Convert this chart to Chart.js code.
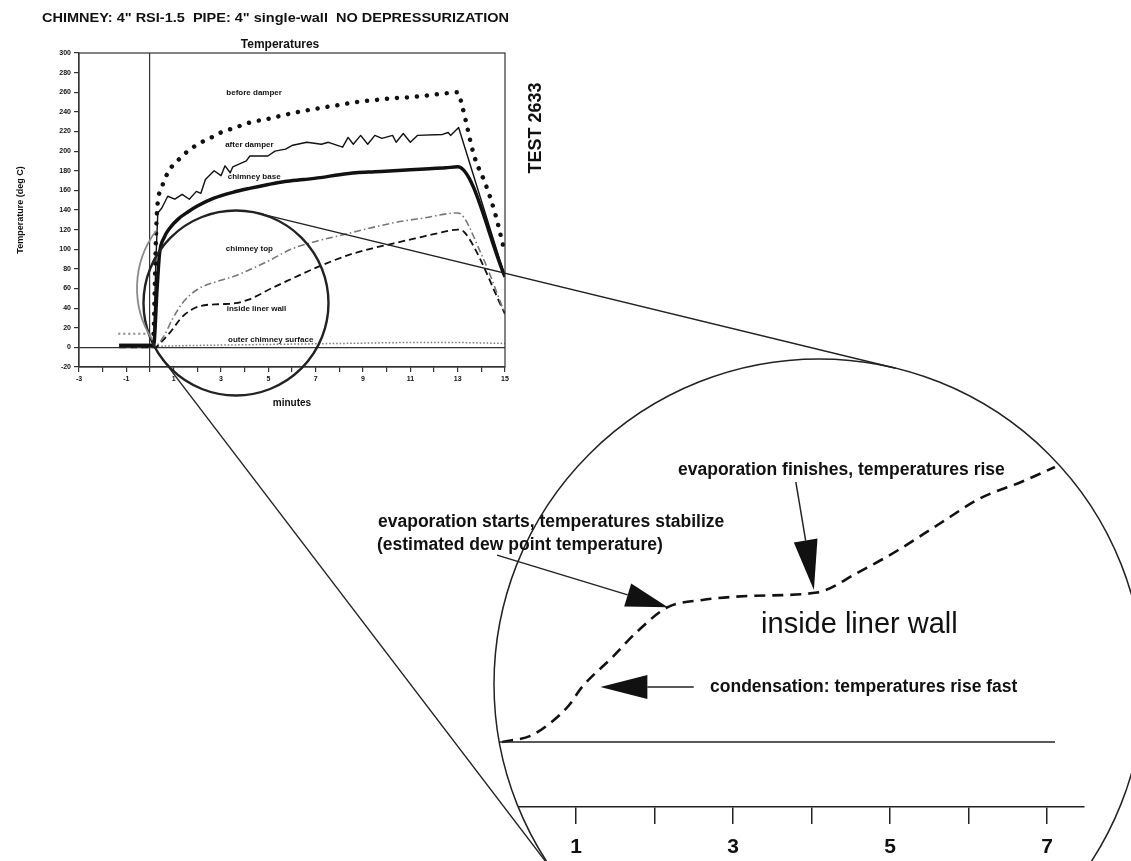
<!DOCTYPE html>
<html>
<head>
<meta charset="utf-8">
<script src="https://cdn.jsdelivr.net/npm/chart.js@4.4.1/dist/chart.umd.min.js"></script>
<style>
  html, body { margin: 0; padding: 0; background: #fff; }
  #wrap { position: relative; width: 1131px; height: 861px; overflow: hidden; }
  canvas { position: absolute; left: 0; top: 0; }
</style>
</head>
<body>
<div id="wrap">
  <canvas id="main" width="1131" height="861"></canvas>
  <canvas id="inset" width="1131" height="861"></canvas>
</div>
<script>
// ---- data (minutes, deg C) ----
const beforeDamperMin = [-1.3, 0.15, 0.2, 0.25, 0.3, 0.5, 0.8, 1.2, 1.6, 2.1, 2.6, 3.0, 3.6, 4.2, 5.0, 5.7, 6.5, 7.2, 8.0, 8.7, 9.5, 10.3, 11.0, 11.8, 12.5, 13.0, 13.2, 13.7, 14.2, 14.6, 15];
const beforeDamperTemp = [14, 14, 60, 110, 140, 163, 180, 191, 200, 208, 214, 219, 224, 229, 233, 237, 241, 244, 247, 250, 252, 254, 255, 257, 259, 260, 245, 195, 165, 135, 96];

const afterDamperMin = [-1.3, 0.15, 0.25, 0.33, 0.5, 0.75, 1.05, 1.36, 1.66, 1.96, 2.15, 2.34, 2.71, 3.0, 3.17, 3.39, 3.5, 4.07, 4.22, 4.98, 5.28, 5.73, 6.03, 6.63, 7.24, 7.54, 8.14, 8.37, 8.59, 8.9, 9.2, 9.5, 9.8, 10.25, 10.4, 10.7, 11.0, 11.3, 12.36, 12.6, 12.7, 13.04, 15];
const afterDamperTemp = [3, 3, 90, 137, 142, 154, 151, 156, 151, 159, 157, 171, 180, 175, 185, 178, 184, 190, 195, 195, 200, 202, 206, 209, 207, 209, 204, 214, 207, 216, 207, 216, 213, 216, 209, 218, 209, 216, 217, 219, 216, 224, 72];

const chimneyBaseMin = [-1.3, 0.15, 0.3, 0.4, 0.6, 0.85, 1.2, 1.6, 2.0, 2.7, 3.5, 4.2, 5.0, 5.7, 6.5, 7.2, 8.0, 8.7, 9.5, 10.3, 11.0, 11.8, 12.5, 13.0, 15];
const chimneyBaseTemp = [2, 2, 60, 95, 112, 122, 131, 138, 144, 152, 158, 162, 166, 169, 171, 173, 176, 178, 179, 180, 181, 182, 183, 184, 72];

const chimneyTopMin = [-1.3, 0.2, 0.6, 0.93, 1.4, 2.0, 2.8, 3.5, 4.2, 5.0, 5.96, 7.0, 8.2, 9.2, 10.3, 11.6, 13.0, 14.0, 15];
const chimneyTopTemp = [1, 1, 12, 28, 46, 59, 67, 72, 79, 88, 100, 108, 115, 121, 127, 132, 137, 95, 34];

const linerMin = [-1.3, 0.2, 0.5, 0.84, 1.4, 2.1, 2.96, 3.6, 4.2, 5.2, 6.0, 6.9, 7.7, 8.5, 9.4, 10.3, 11.2, 12.1, 13.0, 13.3, 15];
const linerTemp = [0, 0, 6, 15, 32, 42, 44, 45, 49, 61, 70, 80, 88, 95, 101, 106, 111, 116, 120, 117, 34];

const outerMin = [-1.3, 0, 2, 5, 8, 11, 13, 15];
const outerTemp = [1, 1, 2, 3, 4, 5, 5, 4];

// magnified view of the inside liner wall
const zoomMinutes = [0.06, 0.43, 0.68, 0.9, 1.08, 1.46, 1.78, 2.17, 2.61, 3.28, 4.07, 4.58, 5.1, 5.62, 6.15, 6.67, 7.1];
const zoomLiner = [0, 2, 6, 11, 17, 26, 34, 41.5, 43.7, 45, 46, 52, 59, 67, 75, 80, 84.6];
const zoomBaseMinutes = [0, 7.1];
const zoomBaseTemp = [0, 0];
const zoomTicks = [1, 2, 3, 4, 5, 6, 7];

const FONT = "'Liberation Sans', Arial, sans-serif";
Chart.defaults.font.family = FONT;
Chart.defaults.color = "#111";

const pts = (xs, ys) => xs.map((x, i) => ({ x: x, y: ys[i] }));
const oddOnly = (v) => (Math.abs(v % 2) === 1 ? v : "");
const preStart = (c) => c.p1.parsed.x <= 0.15;

function stretchText(ctx, text, x, y, width) {
  const w = ctx.measureText(text).width;
  ctx.save();
  ctx.translate(x, y);
  ctx.scale(width / w, 1);
  ctx.fillText(text, 0, 0);
  ctx.restore();
}

// frame, titles and series names on the small chart
const mainDecor = {
  id: "mainDecor",
  afterDatasetsDraw(chart) {
    const { ctx, scales } = chart;
    const names = [
      ["before damper", 4.4, 259],
      ["after damper", 4.2, 206],
      ["chimney base", 4.4, 174],
      ["chimney top", 4.2, 100],
      ["inside liner wall", 4.5, 39],
      ["outer chimney surface", 5.1, 8],
    ];
    ctx.save();
    ctx.font = "bold 8px " + FONT;
    ctx.fillStyle = "#111";
    ctx.textAlign = "center";
    ctx.textBaseline = "middle";
    names.forEach(([t, x, y]) => {
      ctx.fillText(t, scales.x.getPixelForValue(x), scales.y.getPixelForValue(y));
    });
    ctx.restore();
  },
  afterDraw(chart) {
    const { ctx, chartArea: a } = chart;
    ctx.save();
    ctx.strokeStyle = "#333";
    ctx.lineWidth = 1.2;
    ctx.strokeRect(a.left, a.top, a.right - a.left, a.bottom - a.top);

    ctx.fillStyle = "#111";
    ctx.textBaseline = "middle";
    ctx.textAlign = "left";
    ctx.font = "bold 12px " + FONT;
    stretchText(ctx, "CHIMNEY: 4\" RSI-1.5  PIPE: 4\" single-wall  NO DEPRESSURIZATION", 42, 19, 467);

    ctx.textAlign = "center";
    ctx.font = "bold 12px " + FONT;
    ctx.fillText("Temperatures", 280, 45);

    ctx.translate(536, 128);
    ctx.rotate(-Math.PI / 2);
    ctx.font = "bold 18px " + FONT;
    ctx.fillText("TEST 2633", 0, 0);
    ctx.restore();
  },
};

new Chart(document.getElementById("main"), {
  type: "line",
  data: {
    datasets: [
      {
        label: "before damper",
        data: pts(beforeDamperMin, beforeDamperTemp),
        borderColor: "#111",
        borderWidth: 4.5,
        borderDash: [0.01, 10],
        borderCapStyle: "round",
        cubicInterpolationMode: "monotone",
        segment: {
          borderColor: (c) => (preStart(c) ? "#999" : undefined),
          borderWidth: (c) => (preStart(c) ? 2.5 : undefined),
          borderDash: (c) => (preStart(c) ? [0.01, 5] : undefined),
        },
      },
      {
        label: "after damper",
        data: pts(afterDamperMin, afterDamperTemp),
        borderColor: "#111",
        borderWidth: 1.4,
        tension: 0,
      },
      {
        label: "chimney base",
        data: pts(chimneyBaseMin, chimneyBaseTemp),
        borderColor: "#111",
        borderWidth: 3.5,
        cubicInterpolationMode: "monotone",
      },
      {
        label: "chimney top",
        data: pts(chimneyTopMin, chimneyTopTemp),
        borderColor: "#777",
        borderWidth: 1.6,
        borderDash: [7, 3, 1.5, 3],
        cubicInterpolationMode: "monotone",
      },
      {
        label: "inside liner wall",
        data: pts(linerMin, linerTemp),
        borderColor: "#111",
        borderWidth: 1.8,
        borderDash: [7, 4],
        cubicInterpolationMode: "monotone",
      },
      {
        label: "outer chimney surface",
        data: pts(outerMin, outerTemp),
        borderColor: "#777",
        borderWidth: 1.5,
        borderDash: [1.5, 2],
      },
    ],
  },
  options: {
    responsive: false,
    animation: false,
    devicePixelRatio: 1,
    elements: { point: { radius: 0 }, line: { fill: false, borderJoinStyle: "round" } },
    layout: { padding: { left: 15, right: 626, top: 53, bottom: 449 } },
    plugins: { legend: { display: false }, title: { display: false }, tooltip: { enabled: false } },
    scales: {
      x: {
        type: "linear",
        min: -3,
        max: 15,
        afterFit: (s) => { s.height = 45; },
        ticks: { stepSize: 1, autoSkip: false, maxRotation: 0, padding: 3, font: { size: 7, weight: "bold" }, callback: oddOnly },
        grid: {
          color: (c) => (c.tick && c.tick.value === 0 ? "#333" : "rgba(0,0,0,0)"),
          tickColor: "#333",
          tickLength: 5,
          lineWidth: 1.2,
        },
        border: { color: "#333", width: 1.2 },
        title: { display: true, text: "minutes", font: { size: 10, weight: "bold" }, padding: { top: 2, bottom: 3 } },
      },
      y: {
        min: -20,
        max: 300,
        afterFit: (s) => { s.width = 64; },
        ticks: { stepSize: 20, padding: 3, font: { size: 7, weight: "bold" } },
        grid: {
          color: (c) => (c.tick && c.tick.value === 0 ? "#333" : "rgba(0,0,0,0)"),
          tickColor: "#333",
          tickLength: 5,
          lineWidth: 1.2,
        },
        border: { color: "#333", width: 1.2 },
        title: { display: true, text: "Temperature (deg C)", font: { size: 9, weight: "bold" }, padding: { top: 0, bottom: 0 } },
      },
    },
  },
  plugins: [mainDecor],
});

// ---- magnifier: circles, tangent lines, arrows and notes ----
const smallLens = { x: 236, y: 303, r: 92.5 };
const bigLens = { x: 819, y: 684, r: 325 };

function tangent(a, b, side) {
  const dx = b.x - a.x, dy = b.y - a.y, d = Math.hypot(dx, dy);
  const phi = Math.atan2(dy, dx) + side * (Math.PI / 2 + Math.asin((b.r - a.r) / d));
  const nx = Math.cos(phi), ny = Math.sin(phi);
  return [a.x + a.r * nx, a.y + a.r * ny, b.x + b.r * nx, b.y + b.r * ny];
}

function arrow(ctx, x1, y1, x2, y2, len, half) {
  const ang = Math.atan2(y2 - y1, x2 - x1);
  const bx = x2 - len * Math.cos(ang), by = y2 - len * Math.sin(ang);
  ctx.beginPath();
  ctx.moveTo(x1, y1);
  ctx.lineTo(bx, by);
  ctx.stroke();
  ctx.beginPath();
  ctx.moveTo(x2, y2);
  ctx.lineTo(bx - half * Math.sin(ang), by + half * Math.cos(ang));
  ctx.lineTo(bx + half * Math.sin(ang), by - half * Math.cos(ang));
  ctx.closePath();
  ctx.fill();
}

const magnifier = {
  id: "magnifier",
  beforeDraw(chart) {
    const ctx = chart.ctx;
    ctx.save();
    ctx.beginPath();
    ctx.arc(bigLens.x, bigLens.y, bigLens.r, 0, Math.PI * 2);
    ctx.clip();
  },
  afterDraw(chart) {
    const { ctx, scales } = chart;
    ctx.restore();
    const px = (v) => scales.x.getPixelForValue(v);
    const py = (v) => scales.y.getPixelForValue(v);

    ctx.save();
    ctx.strokeStyle = "#222";
    ctx.fillStyle = "#111";

    ctx.lineWidth = 1.5;
    ctx.beginPath();
    ctx.arc(bigLens.x, bigLens.y, bigLens.r, 0, Math.PI * 2);
    ctx.stroke();

    ctx.lineWidth = 2.4;
    ctx.beginPath();
    ctx.arc(smallLens.x, smallLens.y, smallLens.r, 0, Math.PI * 2);
    ctx.stroke();

    ctx.strokeStyle = "#8a8a8a";
    ctx.lineWidth = 1.8;
    ctx.beginPath();
    ctx.arc(232, 288, 95, (147 * Math.PI) / 180, (217 * Math.PI) / 180);
    ctx.stroke();

    ctx.strokeStyle = "#222";
    ctx.lineWidth = 1.4;
    [-1, 1].forEach((side) => {
      const t = tangent(smallLens, bigLens, side);
      ctx.beginPath();
      ctx.moveTo(t[0], t[1]);
      ctx.lineTo(t[2], t[3]);
      ctx.stroke();
    });

    ctx.lineWidth = 1.5;
    arrow(ctx, px(-0.006), py(57.5), px(2.17), py(41.5), 42, 12);
    arrow(ctx, px(3.8), py(80), px(4.03), py(46.8), 50, 12);
    arrow(ctx, px(2.5), py(16.9), px(1.31), py(16.9), 47, 12);

    ctx.textAlign = "left";
    ctx.textBaseline = "middle";
    ctx.font = "bold 17.5px " + FONT;
    ctx.fillText("evaporation finishes, temperatures rise", px(2.299), py(83.7));
    ctx.fillText("evaporation starts, temperatures stabilize", px(-1.522), py(67.7));
    ctx.fillText("(estimated dew point temperature)", px(-1.535), py(60.6));
    ctx.fillText("condensation: temperatures rise fast", px(2.707), py(16.9));
    ctx.font = "29px " + FONT;
    ctx.fillText("inside liner wall", px(3.357), py(36));
    ctx.restore();
  },
};

new Chart(document.getElementById("inset"), {
  type: "line",
  data: {
    datasets: [
      {
        label: "zero",
        data: pts(zoomBaseMinutes, zoomBaseTemp),
        borderColor: "#222",
        borderWidth: 1.5,
      },
      {
        label: "inside liner wall",
        data: pts(zoomMinutes, zoomLiner),
        borderColor: "#111",
        borderWidth: 2.6,
        borderDash: [11, 7],
        cubicInterpolationMode: "monotone",
      },
    ],
  },
  options: {
    responsive: false,
    animation: false,
    devicePixelRatio: 1,
    elements: { point: { radius: 0 }, line: { fill: false } },
    layout: { padding: { left: 497.5, right: 47, top: 449.5, bottom: 0 } },
    plugins: { legend: { display: false }, title: { display: false }, tooltip: { enabled: false } },
    scales: {
      x: {
        type: "linear",
        min: 0,
        max: 7.47,
        afterBuildTicks: (s) => { s.ticks = zoomTicks.map((v) => ({ value: v })); },
        afterFit: (s) => { s.height = 54; },
        ticks: { autoSkip: false, maxRotation: 0, padding: 11, font: { size: 21, weight: "bold" }, color: "#111", callback: oddOnly },
        grid: { drawOnChartArea: false, tickLength: 17, tickColor: "#222", lineWidth: 1.5 },
        border: { color: "#222", width: 1.5 },
      },
      y: { display: false, min: -20, max: 90 },
    },
  },
  plugins: [magnifier],
});
</script>
</body>
</html>
